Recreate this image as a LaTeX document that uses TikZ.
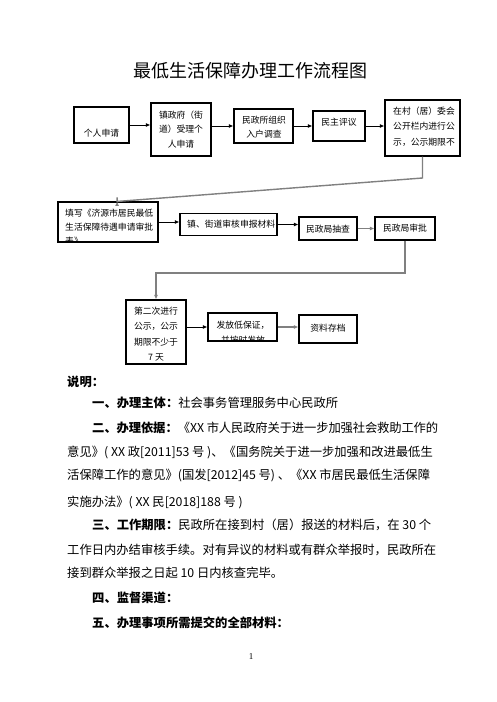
\documentclass[tikz,border=0pt]{standalone}
\usepackage{fontspec}
\setmainfont{Noto Sans CJK SC}
\newfontfamily\pgnum{Liberation Serif}
\usetikzlibrary{arrows.meta,calc}
\XeTeXlinebreaklocale "zh"
\XeTeXlinebreakskip = 0pt plus 1pt minus 0.6pt
\tikzset{
  box/.style={draw=black, line width=1.1pt, inner sep=0pt},
  lbl/.style={font=\fontsize{8.8}{14.5}\selectfont, inner sep=0pt, align=center},
  arr/.style={line width=0.9pt, -{Latex[length=4.5pt,width=4pt]}},
  garr/.style={line width=1.4pt, draw=black!50, -{Latex[length=4.5pt,width=4pt]}},
  body/.style={font=\fontsize{12.3}{14}\selectfont, inner sep=0pt, anchor=west},
  full/.style={body, text width=#1, align=justify},
}
\begin{document}
\begin{tikzpicture}[x=1pt,y=-1pt]
\fill[white] (0,0) rectangle (496,702);
\useasboundingbox (0,0) rectangle (496,702);

\node[font=\fontsize{18}{20}\selectfont, inner sep=0pt] (title) at (250,71) {最低生活保障办理工作流程图};

% row 1
\node[box, minimum width=55pt, minimum height=36pt] (A) at (101.5,125) {};
\node[lbl] (tA) at (101.5,133) {个人申请};
\node[box, minimum width=60pt, minimum height=53pt] (B) at (181,129.5) {};
\node[lbl] (tB) at (181,129.5) {镇政府（街\\道）受理个\\人申请};
\node[box, minimum width=59pt, minimum height=34pt] (C) at (263.5,126) {};
\node[lbl] (tC) at (264,127) {民政所组织\\入户调查};
\node[box, minimum width=52pt, minimum height=30pt] (D) at (339,126) {};
\node[lbl] (tD) at (339,122) {民主评议};
\node[box, minimum width=75pt, minimum height=56pt] (E) at (422.5,128) {};
\node[lbl, align=left, anchor=west, font=\fontsize{8.8}{15.5}\selectfont] (tE) at (393,126.5) {在村（居）委会\\公开栏内进行公\\示，公示期限不};

\draw[arr] (A.east) -- (A.east -| B.west);
\draw[arr] (B.east |- C.west) -- (C.west);
\draw[arr] (C.east) -- (C.east -| D.west);
\draw[arr] (D.east) -- (D.east -| E.west);

% row 2
\node[box, minimum width=100pt, minimum height=40pt] (F) at (108,222) {};
\begin{scope}
  \clip ($(F.north west)+(1,0.6)$) rectangle ($(F.south east)+(-1,-0.6)$);
  \node[lbl, align=left, anchor=west, font=\fontsize{8.8}{14}\selectfont] (tF) at (65,227.5) {填写《济源市居民最低\\生活保障待遇申请审批\\表》};
\end{scope}
\node[box, minimum width=97pt, minimum height=22pt] (G) at (228.5,224.5) {};
\node[lbl, anchor=west] (tG) at (187,224) {镇、街道审核申报材料};
\node[box, minimum width=58pt, minimum height=23pt] (H) at (328,228.5) {};
\node[lbl] (tH) at (328,229) {民政局抽查};
\node[box, minimum width=60pt, minimum height=23pt] (I) at (405,228.5) {};
\node[lbl] (tI) at (405,228) {民政局审批};

\coordinate (k1) at (0,178);
\draw[garr] (E.south) -- (E.south |- k1) -- ($(F.north west)!0.59!(F.north east)$ |- k1) -- ($(F.north west)!0.59!(F.north east)$);
\draw[arr] (F.east) -- (F.east -| G.west);
\draw[arr] (G.east) -- (G.east -| H.west);
\draw[garr] (H.east) -- (H.east -| I.west);

% row 3
\node[box, minimum width=60pt, minimum height=64pt] (J) at (156,332) {};
\node[lbl, font=\fontsize{8.8}{15.3}\selectfont] (tJ) at (156,334) {第二次进行\\公示，公示\\期限不少于\\7 天};
\node[box, minimum width=69pt, minimum height=28pt] (K) at (242.5,327) {};
\begin{scope}
  \clip ($(K.north west)+(1,0.6)$) rectangle ($(K.south east)+(-1,-0.6)$);
  \node[lbl, font=\fontsize{8.8}{15}\selectfont] (tK) at (243,333) {发放低保证，\\并按时发放};
\end{scope}
\node[box, minimum width=58pt, minimum height=28pt] (L) at (328,329) {};
\node[lbl] (tL) at (328,328) {资料存档};

\coordinate (k2) at (0,273);
\draw[garr] (I.south) -- (I.south |- k2) -- (J.north |- k2) -- (J.north);
\draw[arr] (J.east |- K.west) -- (K.west);
\draw[garr] (K.east) -- (K.east -| L.west);

% explanation text
\node[body] (t1) at (67,382) {\bfseries 说明：};
\node[body] (t2) at (92,403) {{\bfseries 一、办理主体：}社会事务管理服务中心民政所};
\node[full=346pt] (t3) at (92,428) {\noindent\parfillskip=0pt {\bfseries 二、办理依据：}《XX 市人民政府关于进一步加强社会救助工作的};
\node[full=370pt] (t4) at (67,452) {\noindent\parfillskip=0pt 意见》( XX 政[2011]53 号 )、《国务院关于进一步加强和改进最低生};
\node[full=370pt] (t5) at (67,475) {\noindent\parfillskip=0pt 活保障工作的意见》(国发[2012]45 号) 、《XX 市居民最低生活保障};
\node[body] (t6) at (67,502) {实施办法》( XX 民[2018]188 号 )};
\node[full=346pt] (t7) at (92,525) {\noindent\parfillskip=0pt {\bfseries 三、工作期限：}民政所在接到村（居）报送的材料后，在 30 个};
\node[full=370pt] (t8) at (67,550) {\noindent\parfillskip=0pt 工作日内办结审核手续。对有异议的材料或有群众举报时，民政所在};
\node[body] (t9) at (67,573) {接到群众举报之日起 10 日内核查完毕。};
\node[body] (t10) at (92,598) {\bfseries 四、监督渠道：};
\node[body] (t11) at (92,623) {\bfseries 五、办理事项所需提交的全部材料：};

\node[font=\pgnum\fontsize{9}{10}\selectfont, inner sep=0pt] (pg) at (251,657) {1};
\end{tikzpicture}
\end{document}
